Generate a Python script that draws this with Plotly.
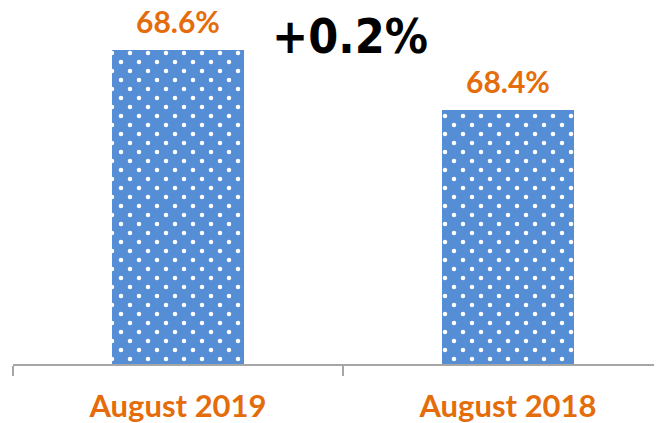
import plotly.graph_objects as go

categories = ["August 2019", "August 2018"]
values = [68.6, 68.4]
value_labels = ["68.6%", "68.4%"]
change_label = "+0.2%"

BLUE = "#558ED5"
ORANGE = "#E46C0A"
AXIS = "#A6A6A6"

# page body adds an 8px margin, so the figure is sized to fit the window
W, H = 654, 415
ML, MR, MT, MB = 5, 0, 0, 59
PW, PH = W - ML - MR, H - MT - MB
XSCALE = 330.0      # px per category
YSCALE = 300.0      # px per percentage point
x0 = -0.5
x1 = x0 + PW / XSCALE
ytop = 68.74
ybot = ytop - PH / YSCALE
OFF = 9  # pattern stagger offset in px

fig = go.Figure()
# base bars with dot grid
fig.add_trace(go.Bar(
    x=categories, y=values, width=0.4,
    marker=dict(color=BLUE, line=dict(width=0),
                pattern=dict(shape=".", size=18, solidity=0.05,
                             fgcolor="white", bgcolor=BLUE, fillmode="replace")),
    xaxis="x", yaxis="y", hoverinfo="skip", showlegend=False,
))
# second staggered dot grid (same bars, shifted subplot origin)
fig.add_trace(go.Bar(
    x=categories, y=values, width=0.4,
    marker=dict(color=BLUE, line=dict(width=0),
                pattern=dict(shape=".", size=18, solidity=0.05,
                             fgcolor="white", bgcolor="rgba(0,0,0,0)", fillmode="replace")),
    xaxis="x2", yaxis="y2", hoverinfo="skip", showlegend=False,
))

annotations = []
for c, v, t in zip(categories, values, value_labels):
    annotations.append(dict(
        x=c, y=v, xref="x", yref="y", text=t, showarrow=False,
        yanchor="bottom", yshift=9,
        font=dict(family="Lato", size=30, color=ORANGE, weight="bold"),
    ))
annotations.append(dict(
    x=(342 - ML) / PW, y=1 - 28 / PH, xref="paper", yref="paper",
    text=change_label, showarrow=False, xanchor="center", yanchor="middle",
    font=dict(family="DejaVu Sans Condensed", size=48, color="black", weight="bold"),
))

fig.update_layout(
    width=W, height=H,
    margin=dict(l=ML, r=MR, t=MT, b=MB, pad=0, autoexpand=False),
    paper_bgcolor="white", plot_bgcolor="rgba(0,0,0,0)",
    bargap=0.6,
    xaxis=dict(type="category", range=[x0, x1], domain=[0, 1], automargin=False,
               showline=True, linecolor=AXIS, linewidth=1.5,
               ticks="outside", tickson="boundaries", ticklen=10,
               tickcolor=AXIS, tickwidth=1.5, showgrid=False,
               tickfont=dict(family="Lato", size=31, color=ORANGE, weight="bold"),
               ticklabelstandoff=14, fixedrange=True),
    yaxis=dict(range=[ybot, ytop], domain=[0, 1], visible=False, automargin=False,
               showgrid=False, zeroline=False, fixedrange=True),
    xaxis2=dict(type="category", anchor="y2", automargin=False,
                range=[x0 + OFF / XSCALE, x1], domain=[OFF / PW, 1],
                visible=False, showgrid=False, fixedrange=True),
    yaxis2=dict(anchor="x2", range=[ybot, ytop - OFF / YSCALE], automargin=False,
                domain=[0, 1 - OFF / PH], visible=False,
                showgrid=False, zeroline=False, fixedrange=True),
    annotations=annotations,
)

fig.write_html("out.html")
